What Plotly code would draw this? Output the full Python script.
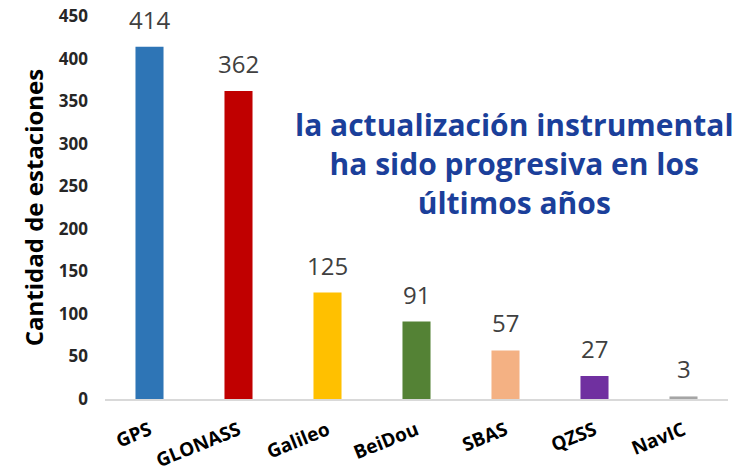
import plotly.graph_objects as go

categories = ["GPS", "GLONASS", "Galileo", "BeiDou", "SBAS", "QZSS", "NavIC"]
values = [414, 362, 125, 91, 57, 27, 3]
colors = ["#2E75B6", "#C00000", "#FFC000", "#548235", "#F4B183", "#7030A0", "#A5A5A5"]
y_ticks = [0, 50, 100, 150, 200, 250, 300, 350, 400, 450]

FONT = "Open Sans"

fig = go.Figure(go.Bar(
    x=categories, y=values,
    marker=dict(color=colors, line=dict(width=0)),
    cliponaxis=False,
))

value_labels = [
    dict(x=c, y=v, xref="x", yref="y", text=str(v), showarrow=False,
         xanchor="center", yanchor="bottom", yshift=9,
         font=dict(family=FONT, size=24, color="#404040"))
    for c, v in zip(categories, values)
]

fig.update_layout(
    width=746, height=475,
    margin=dict(l=105, r=18, t=16, b=76),
    paper_bgcolor="white", plot_bgcolor="white",
    bargap=0.685,
    showlegend=False,
    xaxis=dict(
        automargin=False,
        showline=True, linecolor="#D9D9D9", linewidth=2,
        showgrid=False, ticks="", tickangle=-22, ticklabelstandoff=11,
        tickfont=dict(family=FONT, size=19, color="#000000", weight="bold"),
    ),
    yaxis=dict(
        automargin=False, ticklabeloverflow="allow",
        range=[0, 450], tickvals=y_ticks, showgrid=False, zeroline=False,
        showline=False, ticks="", ticklabelstandoff=16,
        tickfont=dict(family=FONT, size=17, color="#262626", weight="bold"),
        title=dict(text="Cantidad de estaciones", standoff=8,
                   font=dict(family=FONT, size=24, color="#000000", weight="bold")),
    ),
    annotations=value_labels + [dict(
        text="la actualización instrumental<br>ha sido progresiva en los<br>últimos años",
        xref="paper", yref="paper", x=0.658, y=0.616,
        xanchor="center", yanchor="middle", showarrow=False, align="center",
        font=dict(family=FONT, size=30, color="#1B3F9A", weight="bold"),
    )],
)

fig.write_html("out.html", config={"displayModeBar": False},
               post_script="document.body.style.margin='0';")
